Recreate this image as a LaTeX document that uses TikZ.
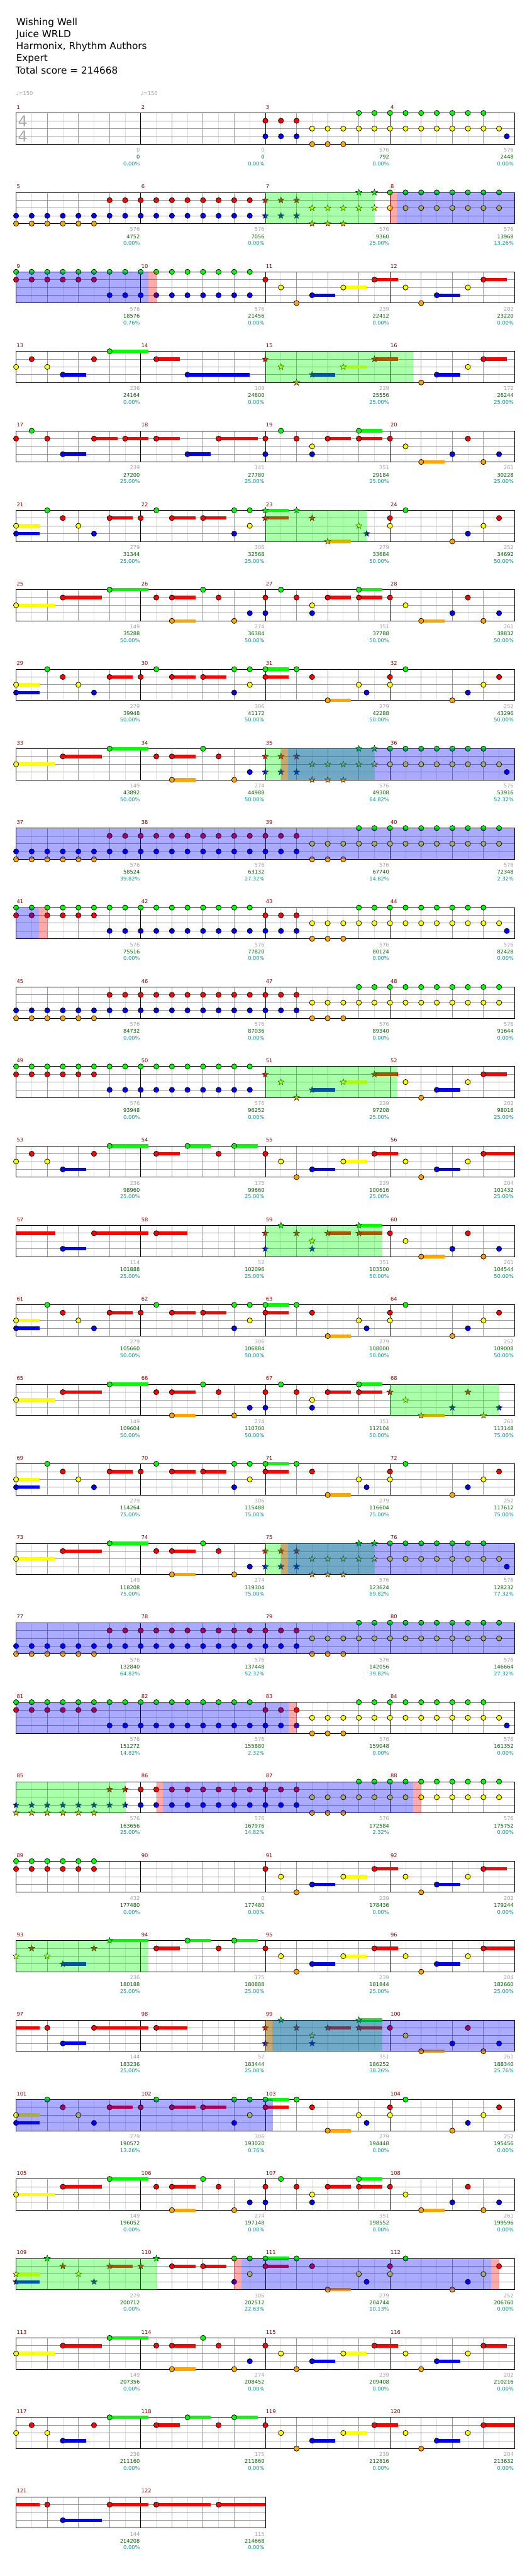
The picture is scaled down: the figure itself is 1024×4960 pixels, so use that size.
\documentclass[tikz,border=0pt]{standalone}
\usepackage{fontspec}
\setmainfont{DejaVu Sans}
\usepackage{tikz}
\definecolor{fret0}{RGB}{0,255,0}
\definecolor{fret1}{RGB}{255,0,0}
\definecolor{fret2}{RGB}{255,255,0}
\definecolor{fret3}{RGB}{0,0,255}
\definecolor{fret4}{RGB}{255,165,0}
\definecolor{gridlight}{RGB}{221,221,221}
\definecolor{gridbeat}{RGB}{153,153,153}
\definecolor{numgrey}{RGB}{160,160,160}
\definecolor{numgreen}{RGB}{0,100,0}
\definecolor{numteal}{RGB}{0,153,153}
\definecolor{numred}{RGB}{139,0,0}
\definecolor{tsgrey}{RGB}{170,170,170}

% row origin and star range
\newcommand\setrow[1]{\pgfmathsetmacro\ry{217.5+153*#1}\def\stA{-9}\def\stB{-9}}
\newcommand\stars[2]{\def\stA{#1}\def\stB{#2}}
\newcommand\starpath{(90:6.3pt) -- (126:2.6pt) -- (162:6.3pt) -- (198:2.6pt) -- (234:6.3pt) -- (270:2.6pt) -- (306:6.3pt) -- (342:2.6pt) -- (18:6.3pt) -- (54:2.6pt) -- cycle}
\newcommand\gcirc[1]{\filldraw[fill=fret#1,draw=black,line width=0.9pt] (\xx,\yy) circle[radius=5pt];}
% note at position (eighths from row start), lane 0..4
\newcommand\gnote[2]{%
  \pgfmathsetmacro\pp{#1}%
  \pgfmathsetmacro\xx{31+30*\pp}%
  \pgfmathsetmacro\yy{\ry+15*#2}%
  \ifdim\pp pt<\stA pt\relax\gcirc{#2}%
  \else\ifdim\pp pt>\stB pt\relax\gcirc{#2}%
  \else\filldraw[fill=fret#2,draw=black,line width=0.5pt,shift={(\xx,\yy)}] \starpath;%
  \fi\fi}
\newcommand\gtail[3]{\fill[fret#2] ({31+30*(#1)},{\ry+15*#2-3.3}) rectangle ({31+30*(#3)},{\ry+15*#2+3.3});}
\newcommand\gsus[3]{\gtail{#1}{#2}{#3}\gnote{#1}{#2}}
\newcommand\olay[3]{\fill[#1,opacity=0.333] ({31+30*(#2)},\ry) rectangle ({31+30*(#3)},{\ry+60});}

% staff grid of #1 measures
\newcommand\staffrow[1]{%
  \pgfmathtruncatemacro\nlast{8*#1}%
  \foreach \ee in {1,3,...,\nlast}{\draw[eighth] ({31+30*\ee},\ry) -- ++(0,60);}%
  \foreach \ee in {2,4,...,\nlast}{\draw[beat] ({31+30*\ee},\ry) -- ++(0,60);}%
  \foreach \hl in {1,2,3}{\draw[beat] (31,{\ry+15*\hl}) -- ++({240*#1},0);}%
  \foreach \ee in {8,16,...,\nlast}{\draw[bar] ({31+30*\ee},\ry) -- ++(0,60);}%
  \draw[bar] (31,\ry) rectangle ++({240*#1},60);}

% measure number and the three figures under its end line
\newcommand\mtext[5]{%
  \node[mnum] (m#2) at ({32+240*#1},{\ry-7.6}) {#2};
  \node[cnt] (n#2) at ({29.5+240*(#1+1)},{\ry+75}) {#3};
  \node[scr] (s#2) at ({29.5+240*(#1+1)},{\ry+88.5}) {#4};
  \node[pct] (p#2) at ({29.5+240*(#1+1)},{\ry+101.5}) {#5\%};}
\newcommand\rowtext[1]{\foreach \col/\mea/\nts/\scv/\pcv in {#1}{\mtext{\col}{\mea}{\nts}{\scv}{\pcv}}}

% recurring phrases (offset in eighths)
\newcommand\chordA[1]{%
  \gsus{#1}{2}{#1+1.5}\gsus{#1}{3}{#1+1.5}\gnote{#1+2}{0}\gnote{#1+3}{1}\gnote{#1+4}{2}\gnote{#1+5}{3}%
  \gsus{#1+6}{1}{#1+7.5}\gnote{#1+8}{1}\gnote{#1+9}{0}\gsus{#1+10}{1}{#1+11.5}\gsus{#1+12}{1}{#1+13.5}%
  \gnote{#1+14}{0}\gnote{#1+14}{3}\gnote{#1+15}{0}\gnote{#1+15}{2}}
\newcommand\chordB[1]{%
  \gsus{#1}{0}{#1+1.5}\gsus{#1}{1}{#1+1.5}\gnote{#1+2}{0}\gnote{#1+3}{1}\gsus{#1+4}{4}{#1+5.5}%
  \gnote{#1+6}{2}\gnote{#1+6.5}{3}\gnote{#1+8}{1}\gnote{#1+8}{2}\gnote{#1+9}{0}%
  \gnote{#1+12}{4}\gnote{#1+13}{3}\gnote{#1+14}{2}\gnote{#1+15}{1}}
\newcommand\chordC[1]{%
  \gsus{#1}{2}{#1+2.5}\gsus{#1+3}{1}{#1+5.5}\gsus{#1+6}{0}{#1+8.5}\gnote{#1+9}{1}%
  \gsus{#1+10}{1}{#1+11.5}\gsus{#1+10}{4}{#1+11.5}\gnote{#1+12}{0}\gnote{#1+13}{1}\gnote{#1+14}{4}\gnote{#1+15}{3}}
\newcommand\chordD[1]{%
  \gnote{#1}{1}\gnote{#1}{3}\gnote{#1+1}{0}\gnote{#1+2}{1}\gnote{#1+3}{2}\gnote{#1+3}{3}%
  \gsus{#1+4}{1}{#1+5.5}\gsus{#1+6}{0}{#1+7.5}\gsus{#1+6}{1}{#1+7.5}\gnote{#1+8}{1}\gnote{#1+9}{2}%
  \gsus{#1+10}{4}{#1+11.5}\gnote{#1+12}{3}\gnote{#1+13}{1}\gnote{#1+14}{4}\gnote{#1+15}{3}}
\newcommand\runE[2]{%
  \gnote{#1}{1}\gnote{#1+1}{2}\gnote{#1+2}{4}\gsus{#1+3}{3}{#1+4.5}\gsus{#1+5}{2}{#1+6.5}\gsus{#1+7}{1}{#1+8.5}%
  \gnote{#1+10}{4}\gsus{#1+11}{3}{#1+12.5}\gnote{#1+13}{2}\gsus{#1+14}{1}{#2}}
\newcommand\runF[1]{%
  \gnote{#1}{2}\gnote{#1+1}{1}\gnote{#1+2}{2}\gsus{#1+3}{3}{#1+4.5}\gnote{#1+5}{1}\gsus{#1+6}{0}{#1+8.5}\gsus{#1+9}{1}{#1+10.5}}
\newcommand\runG{\gsus{11}{0}{12.5}\gnote{13}{1}\gsus{14}{0}{15.5}}
\newcommand\streamBlue{%
  \foreach \qq in {0,...,18}{\gnote{\qq}{3}}%
  \foreach \qq in {0,...,5}{\gnote{\qq}{4}}%
  \foreach \qq in {6,...,18}{\gnote{\qq}{1}}%
  \foreach \qq in {19,...,31}{\gnote{\qq}{2}}%
  \foreach \qq in {19,20,21}{\gnote{\qq}{4}}%
  \foreach \qq in {22,...,31}{\gnote{\qq}{0}}}
\newcommand\streamGreen{%
  \foreach \qq in {0,...,15}{\gnote{\qq}{0}}%
  \foreach \qq in {0,...,5}{\gnote{\qq}{1}}%
  \foreach \qq in {6,...,15}{\gnote{\qq}{3}}}
\newcommand\streamTail{%
  \foreach \qq in {16,17,18}{\gnote{\qq}{1}\gnote{\qq}{3}}%
  \foreach \qq in {19,...,31}{\gnote{\qq}{2}}%
  \foreach \qq in {19,20,21}{\gnote{\qq}{4}}%
  \foreach \qq in {22,...,30}{\gnote{\qq}{0}}%
  \gnote{31.5}{3}}

\begin{document}
\begin{tikzpicture}[x=1pt,y=-1pt,
    title/.style={font=\fontsize{18.5}{22}\selectfont,inner sep=0pt,anchor=base west},
    tempo/.style={font=\fontsize{10}{12}\selectfont,text=numgrey,inner sep=0pt,anchor=base west},
    tsig/.style={font=\fontsize{29}{32}\selectfont,text=tsgrey,inner sep=0pt},
    mnum/.style={font=\fontsize{10}{12}\selectfont,text=numred,inner sep=0pt,anchor=base west},
    cnt/.style={font=\fontsize{10}{12}\selectfont,text=numgrey,inner sep=0pt,anchor=base east},
    scr/.style={font=\fontsize{10}{12}\selectfont,text=numgreen,inner sep=0pt,anchor=base east},
    pct/.style={font=\fontsize{10}{12}\selectfont,text=numteal,inner sep=0pt,anchor=base east},
    eighth/.style={draw=gridlight,line width=1pt},
    beat/.style={draw=gridbeat,line width=1pt},
    bar/.style={draw=black,line width=1pt}]
  \useasboundingbox (0,0) rectangle (1024,4960);
  % header
  \node[title] (song) at (31,49.3) {Wishing Well};
  \node[title] (artist) at (31,72.4) {Juice WRLD};
  \node[title] (charter) at (31,95.5) {Harmonix, Rhythm Authors};
  \node[title] (level) at (31,118.6) {Expert};
  \node[title] (total) at (30,141.7) {Total score = 214668};

  % row 1: 1-4
  \setrow{0}\staffrow{4}
  \node[tempo] (bpmA) at (31,184) {♩=150};
  \node[tempo] (bpmB) at (271,184) {♩=150};
  \node[tsig] (tsTop) at (44,233.5) {4};
  \node[tsig] (tsBot) at (44,262.3) {4};
  \streamTail
  \rowtext{0/1/0/0/0.00,1/2/0/0/0.00,2/3/576/792/0.00,3/4/576/2448/0.00}

  % row 2: 5-8
  \setrow{1}\staffrow{4}\stars{16}{23}
  \streamBlue
  \olay{green}{16}{23}\olay{red}{24}{24.43}\olay{blue}{24.43}{32}
  \rowtext{0/5/576/4752/0.00,1/6/576/7056/0.00,2/7/576/9360/25.00,3/8/576/13968/13.26}

  % row 3: 9-12
  \setrow{2}\staffrow{4}
  \streamGreen\runE{16}{31.5}\gnote{25}{2}
  \olay{blue}{0}{8.49}\olay{red}{8.49}{9}
  \rowtext{0/9/576/18576/0.76,1/10/576/21456/0.00,2/11/239/22412/0.00,3/12/202/23220/0.00}

  % row 4: 13-16
  \setrow{3}\staffrow{4}\stars{16}{25}
  \runF{0}\gsus{11}{3}{15}\runE{16}{31.5}
  \olay{green}{16}{25.47}
  \rowtext{0/13/236/24164/0.00,1/14/109/24600/0.00,2/15/239/25556/25.00,3/16/172/26244/25.00}

  % row 5: 17-20
  \setrow{4}\staffrow{4}
  \gnote{0}{1}\gnote{1}{0}\gnote{2}{1}\gsus{3}{3}{4.5}\gsus{5}{1}{6.5}\gsus{7}{1}{8.5}
  \gsus{9}{1}{10.5}\gsus{11}{3}{12.5}\gsus{13}{1}{15.5}\chordD{16}
  \rowtext{0/17/239/27200/25.00,1/18/145/27780/25.00,2/19/351/29184/25.00,3/20/261/30228/25.00}

  % row 6: 21-24
  \setrow{5}\staffrow{4}\stars{16}{22.5}
  \chordA{0}\chordB{16}
  \olay{green}{16}{22.49}
  \rowtext{0/21/279/31344/25.00,1/22/306/32568/25.00,2/23/279/33684/50.00,3/24/252/34692/50.00}

  % row 7: 25-28
  \setrow{6}\staffrow{4}
  \chordC{0}\chordD{16}
  \rowtext{0/25/149/35288/50.00,1/26/274/36384/50.00,2/27/351/37788/50.00,3/28/261/38832/50.00}

  % row 8: 29-32
  \setrow{7}\staffrow{4}
  \chordA{0}\chordB{16}
  \rowtext{0/29/279/39948/50.00,1/30/306/41172/50.00,2/31/279/42288/50.00,3/32/252/43296/50.00}

  % row 9: 33-36
  \setrow{8}\staffrow{4}\stars{16}{23}
  \chordC{0}\streamTail
  \olay{green}{16}{23}\olay{red}{17}{17.47}\olay{blue}{17.47}{32}
  \rowtext{0/33/149/43892/50.00,1/34/274/44988/50.00,2/35/576/49308/64.82,3/36/576/53916/52.32}

  % row 10: 37-40
  \setrow{9}\staffrow{4}
  \streamBlue
  \olay{blue}{0}{32}
  \rowtext{0/37/576/58524/39.82,1/38/576/63132/27.32,2/39/576/67740/14.82,3/40/576/72348/2.32}

  % row 11: 41-44
  \setrow{10}\staffrow{4}
  \streamGreen\streamTail
  \olay{blue}{0}{1.48}\olay{red}{1.48}{2}
  \rowtext{0/41/576/75516/0.00,1/42/576/77820/0.00,2/43/576/80124/0.00,3/44/576/82428/0.00}

  % row 12: 45-48
  \setrow{11}\staffrow{4}
  \streamBlue
  \rowtext{0/45/576/84732/0.00,1/46/576/87036/0.00,2/47/576/89340/0.00,3/48/576/91644/0.00}

  % row 13: 49-52
  \setrow{12}\staffrow{4}\stars{16}{23}
  \streamGreen\runE{16}{31.5}\gnote{25}{2}
  \olay{green}{16}{24.49}
  \rowtext{0/49/576/93948/0.00,1/50/576/96252/0.00,2/51/239/97208/25.00,3/52/202/98016/25.00}

  % row 14: 53-56
  \setrow{13}\staffrow{4}
  \runF{0}\runG\runE{16}{32}\gnote{25}{2}
  \rowtext{0/53/236/98960/25.00,1/54/175/99660/25.00,2/55/239/100616/25.00,3/56/204/101432/25.00}

  % row 15: 57-60
  \setrow{14}\staffrow{4}\stars{16}{23.5}
  \gtail{0}{1}{2.5}\gsus{3}{3}{4.5}\gsus{5}{1}{8.5}\gsus{9}{1}{11}\chordD{16}
  \olay{green}{16}{23.49}
  \rowtext{0/57/114/101888/25.00,1/58/52/102096/25.00,2/59/351/103500/50.00,3/60/261/104544/50.00}

  % row 16: 61-64
  \setrow{15}\staffrow{4}
  \chordA{0}\chordB{16}
  \rowtext{0/61/279/105660/50.00,1/62/306/106884/50.00,2/63/279/108000/50.00,3/64/252/109008/50.00}

  % row 17: 65-68
  \setrow{16}\staffrow{4}\stars{24}{31}
  \chordC{0}\chordD{16}
  \olay{green}{24}{31}
  \rowtext{0/65/149/109604/50.00,1/66/274/110700/50.00,2/67/351/112104/50.00,3/68/261/113148/75.00}

  % row 18: 69-72
  \setrow{17}\staffrow{4}
  \chordA{0}\chordB{16}
  \rowtext{0/69/279/114264/75.00,1/70/306/115488/75.00,2/71/279/116604/75.00,3/72/252/117612/75.00}

  % row 19: 73-76
  \setrow{18}\staffrow{4}\stars{16}{23}
  \chordC{0}\streamTail
  \olay{green}{16}{23}\olay{red}{17}{17.47}\olay{blue}{17.47}{32}
  \rowtext{0/73/149/118208/75.00,1/74/274/119304/75.00,2/75/576/123624/89.82,3/76/576/128232/77.32}

  % row 20: 77-80
  \setrow{19}\staffrow{4}
  \streamBlue
  \olay{blue}{0}{32}
  \rowtext{0/77/576/132840/64.82,1/78/576/137448/52.32,2/79/576/142056/39.82,3/80/576/146664/27.32}

  % row 21: 81-84
  \setrow{20}\staffrow{4}
  \streamGreen\streamTail
  \olay{blue}{0}{17.48}\olay{red}{17.48}{18}
  \rowtext{0/81/576/151272/14.82,1/82/576/155880/2.32,2/83/576/159048/0.00,3/84/576/161352/0.00}

  % row 22: 85-88
  \setrow{21}\staffrow{4}\stars{0}{7}
  \streamBlue
  \olay{green}{0}{7}\olay{red}{9}{9.43}\olay{blue}{9.43}{25.49}\olay{red}{25.49}{26}
  \rowtext{0/85/576/163656/25.00,1/86/576/167976/14.82,2/87/576/172584/2.32,3/88/576/175752/0.00}

  % row 23: 89-92
  \setrow{22}\staffrow{4}
  \foreach \qq in {0,...,5}{\gnote{\qq}{0}\gnote{\qq}{1}}
  \runE{16}{31.5}\gnote{25}{2}
  \rowtext{0/89/432/177480/0.00,1/90/0/177480/0.00,2/91/239/178436/0.00,3/92/202/179244/0.00}

  % row 24: 93-96
  \setrow{23}\staffrow{4}\stars{0}{8.5}
  \runF{0}\runG\runE{16}{32}\gnote{25}{2}
  \olay{green}{0}{8.5}
  \rowtext{0/93/236/180188/25.00,1/94/175/180888/25.00,2/95/239/181844/25.00,3/96/204/182660/25.00}

  % row 25: 97-100
  \setrow{24}\staffrow{4}\stars{16}{23.5}
  \gtail{0}{1}{1.5}\gnote{2}{1}\gsus{3}{3}{4.5}\gsus{5}{1}{8.5}\gsus{9}{1}{11}\chordD{16}
  \olay{green}{16}{23.49}\olay{red}{16}{16.45}\olay{blue}{16.45}{32}
  \rowtext{0/97/144/183236/25.00,1/98/52/183444/25.00,2/99/351/186252/38.26,3/100/261/188340/25.76}

  % row 26: 101-104
  \setrow{25}\staffrow{4}
  \chordA{0}\chordB{16}
  \olay{blue}{0}{16.48}
  \rowtext{0/101/279/190572/13.26,1/102/306/193020/0.76,2/103/279/194448/0.00,3/104/252/195456/0.00}

  % row 27: 105-108
  \setrow{26}\staffrow{4}
  \chordC{0}\chordD{16}
  \rowtext{0/105/149/196052/0.00,1/106/274/197148/0.00,2/107/351/198552/0.00,3/108/261/199596/0.00}

  % row 28: 109-112
  \setrow{27}\staffrow{4}\stars{0}{9}
  \chordA{0}\chordB{16}
  \olay{green}{0}{9}\olay{red}{14}{14.45}\olay{blue}{14.45}{30.5}\olay{red}{30.5}{31}
  \rowtext{0/109/279/200712/0.00,1/110/306/202512/22.63,2/111/279/204744/10.13,3/112/252/206760/0.00}

  % row 29: 113-116
  \setrow{28}\staffrow{4}
  \chordC{0}\runE{16}{31.5}\gnote{25}{2}
  \rowtext{0/113/149/207356/0.00,1/114/274/208452/0.00,2/115/239/209408/0.00,3/116/202/210216/0.00}

  % row 30: 117-120
  \setrow{29}\staffrow{4}
  \runF{0}\runG\runE{16}{32}\gnote{25}{2}
  \rowtext{0/117/236/211160/0.00,1/118/175/211860/0.00,2/119/239/212816/0.00,3/120/204/213632/0.00}

  % row 31: 121-122
  \setrow{30}\staffrow{2}
  \gtail{0}{1}{1.5}\gnote{2}{1}\gsus{3}{3}{5.5}\gsus{6}{1}{8.5}\gsus{9}{1}{12.5}\gsus{13}{1}{16}
  \rowtext{0/121/144/214208/0.00,1/122/115/214668/0.00}
\end{tikzpicture}
\end{document}
